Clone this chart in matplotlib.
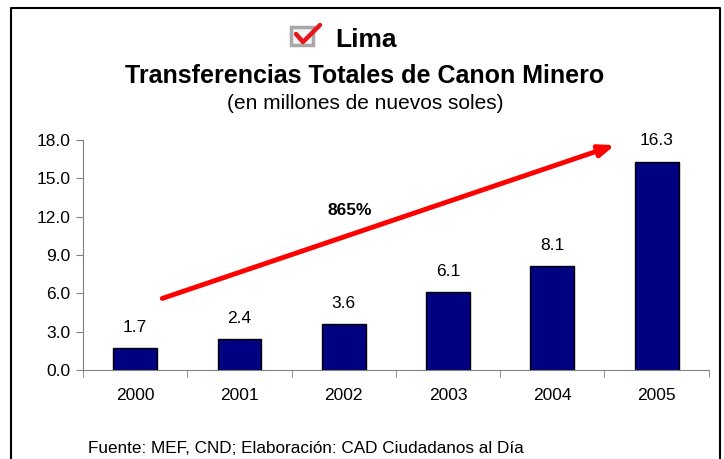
import numpy as np
import matplotlib
matplotlib.use("Agg")
import matplotlib.pyplot as plt
from matplotlib.lines import Line2D
from matplotlib.patches import Rectangle

plt.rcParams["font.family"] = ["Liberation Sans", "DejaVu Sans"]

# data
years = ["2000", "2001", "2002", "2003", "2004", "2005"]
canon = [1.7, 2.4, 3.6, 6.1, 8.1, 16.3]
yticks = [0.0, 3.0, 6.0, 9.0, 12.0, 15.0, 18.0]
growth_label = "865%"
arrow_start = (0.26, 5.6)
arrow_end = (4.6, 17.6)

fig = plt.figure(figsize=(7.24, 4.59), dpi=100)
ax = fig.add_axes([0.1146, 0.1939, 0.8644, 0.5011])

x = np.arange(len(years))
ax.bar(x, canon, width=0.42, color="#000080", edgecolor="black", linewidth=1.0)

for xi, v in zip(x, canon):
    ax.annotate(f"{v:.1f}", (xi, v), xytext=(0, 15), textcoords="offset points",
                ha="center", va="center", fontsize=12.5)

ax.set_xlim(-0.5, len(years) - 0.5)
ax.set_ylim(0, 18)
ax.set_yticks(yticks)
ax.set_yticklabels([f"{t:.1f}" for t in yticks], fontsize=12.5)
ax.set_xticks(x)
ax.set_xticklabels(years, fontsize=12.5)
ax.set_xticks(np.arange(-0.5, len(years)), minor=True)
ax.tick_params(axis="x", which="major", length=0, pad=13)
ax.tick_params(axis="x", which="minor", length=5, color="#808080", direction="out")
ax.tick_params(axis="y", length=5, color="#808080", direction="out", pad=4)

for s in ["top", "right"]:
    ax.spines[s].set_visible(False)
for s in ["left", "bottom"]:
    ax.spines[s].set_color("#808080")

# growth arrow
ax.annotate("", xy=arrow_end, xytext=arrow_start,
            arrowprops=dict(arrowstyle="-|>,head_length=0.9,head_width=0.35",
                            color="#FF0000", lw=3.5, shrinkA=0, shrinkB=0))
ax.text(2.06, 12.5, growth_label, ha="center", va="center", fontsize=12.5, fontweight="bold")

# titles
fig.text(0.506, 0.912, "Lima", ha="center", va="center", fontsize=19, fontweight="bold")
fig.text(0.504, 0.834, "Transferencias Totales de Canon Minero", ha="center", va="center",
         fontsize=18, fontweight="bold")
fig.text(0.504, 0.775, "(en millones de nuevos soles)", ha="center", va="center", fontsize=15)
fig.text(0.122, 0.022, "Fuente: MEF, CND; Elaboración: CAD Ciudadanos al Día",
         ha="left", va="center", fontsize=12.3)

# checkbox icon
W, H = 724, 459
fig.patches.append(Rectangle((291 / W, 1 - 45 / H), 22 / W, 18 / H, transform=fig.transFigure,
                             facecolor="#F4F4F4", edgecolor="#A8A8A8", linewidth=2.5))
fig.lines.append(Line2D([296 / W, 303 / W, 320 / W], [1 - 34 / H, 1 - 42 / H, 1 - 25 / H],
                        transform=fig.transFigure, color="#E8141E", linewidth=3.2,
                        solid_capstyle="round", solid_joinstyle="round"))

# outer frame
fig.lines.append(Line2D([11 / W, 11 / W, 720 / W, 720 / W], [0, 1 - 8 / H, 1 - 8 / H, 0],
                        transform=fig.transFigure, color="black", linewidth=1.5))

fig.savefig("out.png", dpi=100, facecolor="white")
